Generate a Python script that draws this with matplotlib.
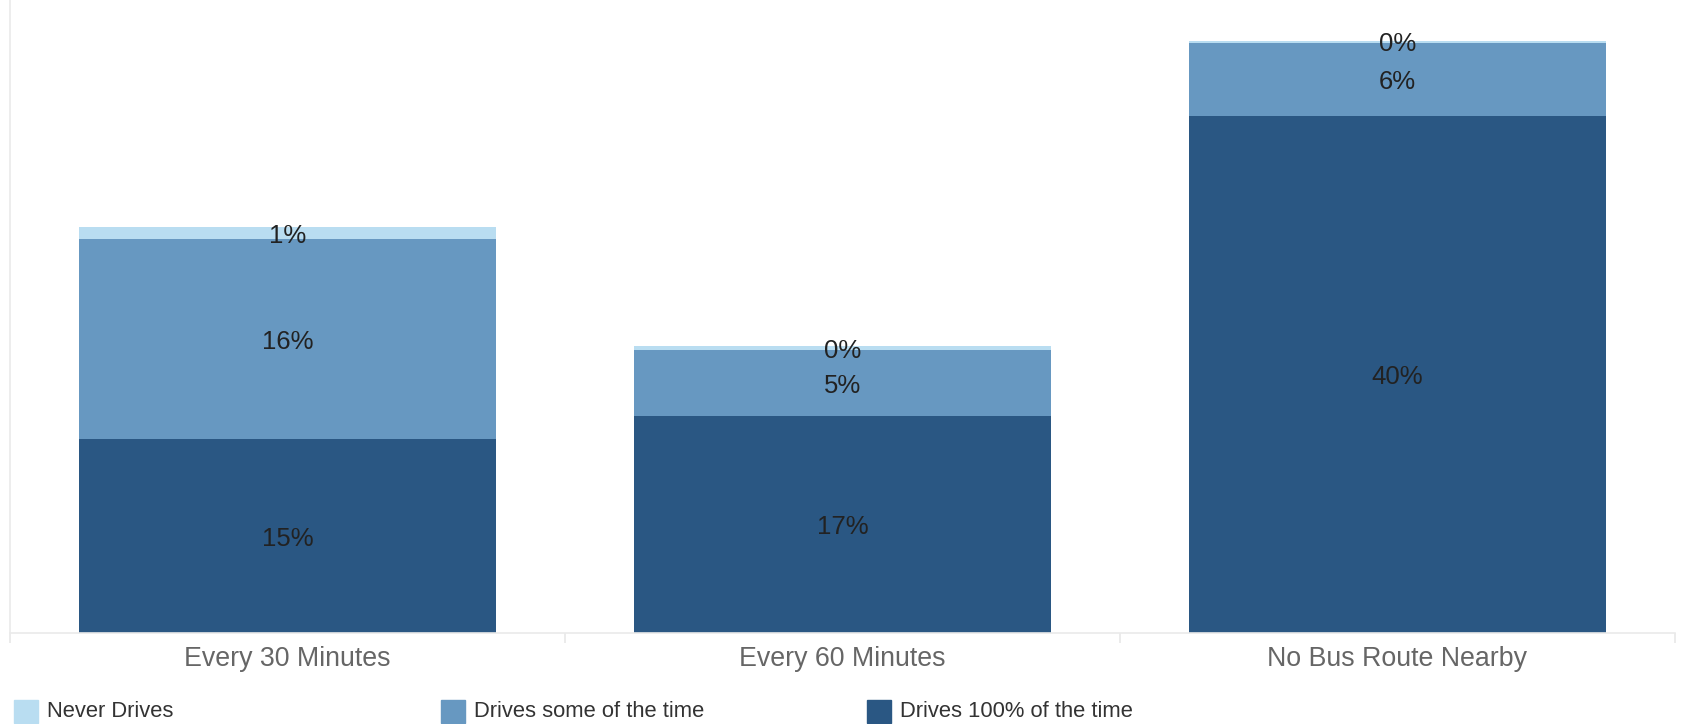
import matplotlib.pyplot as plt
from matplotlib.patches import Rectangle

# datos
categories = ['Every 30 Minutes', 'Every 60 Minutes', 'No Bus Route Nearby']
drives_100 = [15.0, 16.8, 40.0]
drives_some = [15.5, 5.1, 5.7]
never_drives = [0.9, 0.3, 0.15]
labels_100 = ['15%', '17%', '40%']
labels_some = ['16%', '5%', '6%']
labels_never = ['1%', '0%', '0%']

series_names = ['Never Drives', 'Drives some of the time', 'Drives 100% of the time']
colors = ['#b9ddf1', '#6798c1', '#2a5783']

plt.rcParams['font.family'] = ['Liberation Sans', 'DejaVu Sans']

W, H = 1683, 724
fig = plt.figure(figsize=(W / 100, H / 100), dpi=100)
ax = fig.add_axes([10 / W, (H - 633) / H, 1665 / W, 633 / H])

x = list(range(len(categories)))
bw = 0.753
bottom2 = drives_100
bottom3 = [a + b for a, b in zip(drives_100, drives_some)]
ax.bar(x, drives_100, bw, color=colors[2])
ax.bar(x, drives_some, bw, bottom=bottom2, color=colors[1])
ax.bar(x, never_drives, bw, bottom=bottom3, color=colors[0])

# etiquetas en el centro de cada segmento
for vals, bots, labs in [(drives_100, [0, 0, 0], labels_100),
                         (drives_some, bottom2, labels_some),
                         (never_drives, bottom3, labels_never)]:
    for i in x:
        ax.text(i, bots[i] + vals[i] / 2, labs[i], fontsize=18.5, color='#222222',
                ha='center', va='center_baseline')

ax.set_xlim(-0.5, 2.5)
ax.set_ylim(0, 49)
ax.set_xticks(x)
ax.set_xticklabels(categories, fontsize=19.3, color='#666666')
ax.set_xticks([-0.5, 0.5, 1.5, 2.5], minor=True)
ax.tick_params(axis='x', which='major', length=0, pad=9)
ax.tick_params(axis='x', which='minor', length=7, color='#e8e8e8', width=1.2)
ax.set_yticks([])
for s in ['top', 'right']:
    ax.spines[s].set_visible(False)
for s in ['left', 'bottom']:
    ax.spines[s].set_color('#eaeaea')
    ax.spines[s].set_linewidth(1.2)

# leyenda manual
leg_x = [14, 441, 867]
for i in range(3):
    fig.patches.append(Rectangle((leg_x[i] / W, (H - 723) / H), 24 / W, 23 / H,
                                 transform=fig.transFigure, color=colors[i]))
    fig.text((leg_x[i] + 33) / W, (H - 711.5) / H, series_names[i], fontsize=15.8,
             color='#333333', va='center', ha='left')

plt.savefig('out.png', dpi=100)
